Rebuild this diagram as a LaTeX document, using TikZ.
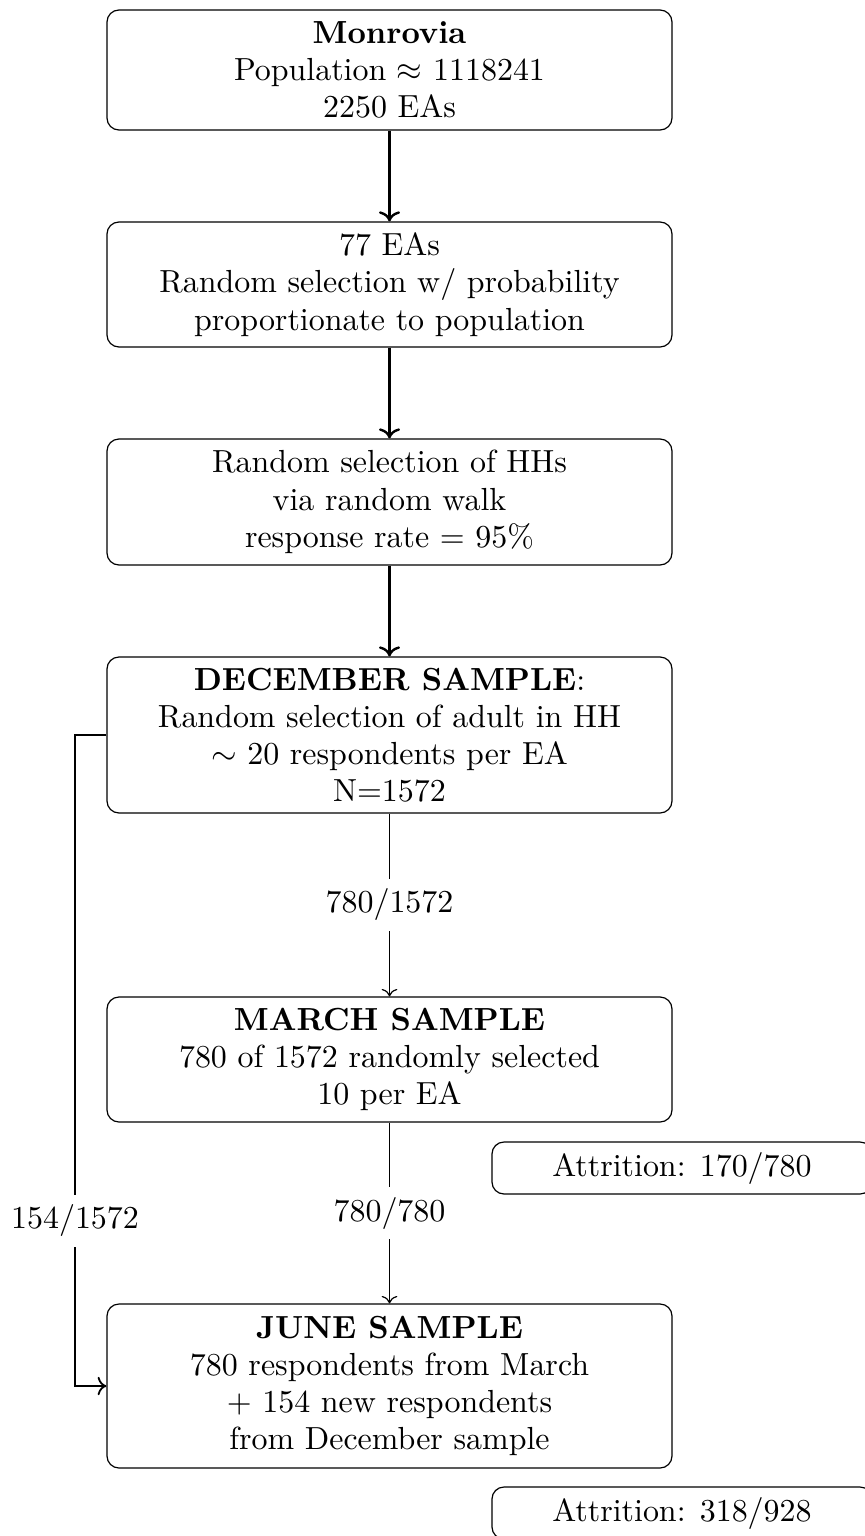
\documentclass[tikz,border=0pt]{standalone}
\usetikzlibrary{arrows.meta}
\begin{document}
\begin{tikzpicture}[x=0.33333pt,y=-0.33333pt,
  every node/.style={font=\fontsize{10.65}{12.4}\selectfont},
  box/.style={draw, rounded corners=4pt, align=center, minimum width=188.33pt, inner sep=3pt},
  abox/.style={draw, rounded corners=4pt, align=center, minimum width=126.67pt, minimum height=17.33pt, inner sep=2pt},
  bigarrow/.style={thick, ->},
  thinarrow/.style={->},
  lbl/.style={fill=white, inner sep=3.33pt}
]
\clip (0,0) rectangle (865,1536);
\useasboundingbox (0,0) rectangle (865,1536);
\node[box, minimum height=40pt] (m) at (389.5,70) {\textbf{Monrovia}\\Population $\approx$ 1118241\\2250 EAs};
\node[box, minimum height=41.67pt] (e) at (389.5,284.5) {77 EAs\\Random selection w/ probability\\proportionate to population};
\node[box, minimum height=42pt] (h) at (389.5,502) {Random selection of HHs\\via random walk\\response rate = 95\%};
\node[box, minimum height=52pt] (d) at (389.5,735) {\textbf{DECEMBER SAMPLE}:\\Random selection of adult in HH\\$\sim$ 20 respondents per EA\\N=1572};
\node[box, minimum height=41.67pt] (mar) at (389.5,1059.5) {\textbf{MARCH SAMPLE}\\780 of 1572 randomly selected\\10 per EA};
\node[box, minimum height=54.67pt] (j) at (389.5,1386) {\textbf{JUNE SAMPLE}\\780 respondents from March\\+ 154 new respondents\\from December sample};
\node[abox] (a1) at (682,1168) {Attrition: 170/780};
\node[abox] (a2) at (682,1513) {Attrition: 318/928};
\coordinate (cl) at (75,735);
\draw[bigarrow] (m) -- (e);
\draw[bigarrow] (e) -- (h);
\draw[bigarrow] (h) -- (d);
\draw[thinarrow] (d) -- node[lbl] {780/1572} (mar);
\draw[thinarrow] (mar) -- node[lbl] {780/780} (j);
\draw[semithick, ->] (d.west) -- (cl) |- node[lbl, pos=0.373] {154/1572} (j.west);
\end{tikzpicture}
\end{document}
